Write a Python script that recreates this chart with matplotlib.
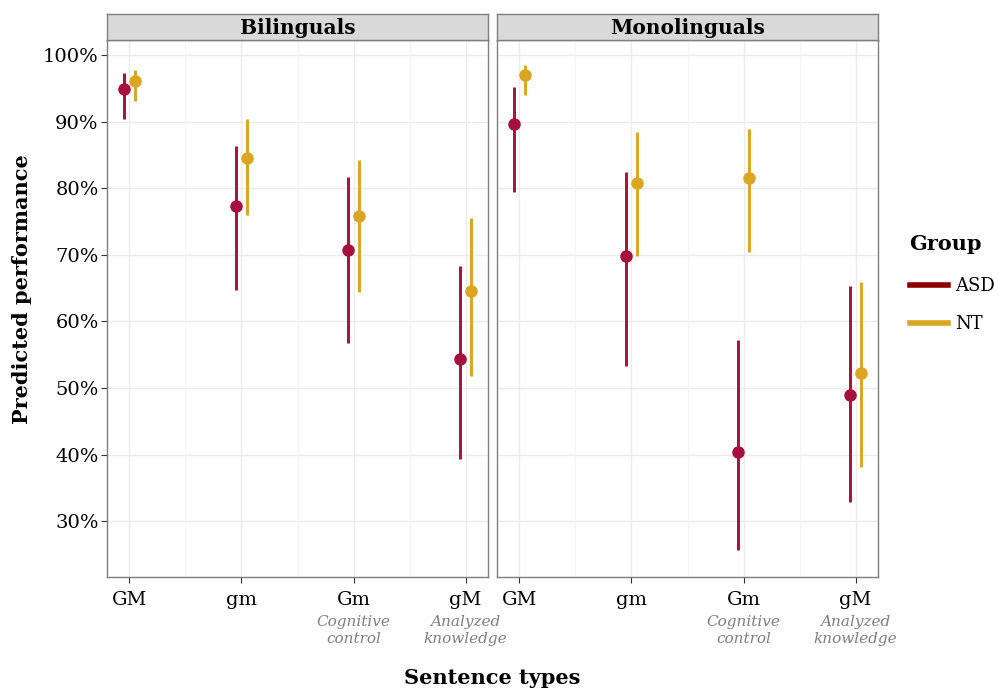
import numpy as np
import matplotlib.pyplot as plt
from matplotlib.lines import Line2D
import matplotlib.transforms as mtransforms

# donnees (en %)
types = ['GM', 'gm', 'Gm', 'gM']
sous_titres = ['', '', 'Cognitive\ncontrol', 'Analyzed\nknowledge']
groupes = ['ASD', 'NT']
panneaux = ['Bilinguals', 'Monolinguals']

bil_asd = [94.9, 77.4, 70.8, 54.3]
bil_asd_bas = [90.5, 64.8, 56.7, 39.4]
bil_asd_haut = [97.4, 86.4, 81.7, 68.4]
bil_nt = [96.2, 84.5, 75.8, 64.6]
bil_nt_bas = [93.2, 76.0, 64.5, 51.8]
bil_nt_haut = [97.8, 90.4, 84.2, 75.6]

mono_asd = [89.7, 69.8, 40.4, 49.0]
mono_asd_bas = [79.5, 53.3, 25.6, 32.8]
mono_asd_haut = [95.2, 82.4, 57.2, 65.4]
mono_nt = [97.1, 80.8, 81.5, 52.2]
mono_nt_bas = [94.0, 69.8, 70.5, 38.1]
mono_nt_haut = [98.5, 88.4, 88.9, 65.9]

donnees = {
    'Bilinguals': [(bil_asd, bil_asd_bas, bil_asd_haut), (bil_nt, bil_nt_bas, bil_nt_haut)],
    'Monolinguals': [(mono_asd, mono_asd_bas, mono_asd_haut), (mono_nt, mono_nt_bas, mono_nt_haut)],
}

coul_pts = {'ASD': '#A5103C', 'NT': '#DAA520'}
coul_leg = {'ASD': '#8B0000', 'NT': '#DAA520'}
decal = {'ASD': -0.05, 'NT': 0.05}

plt.rcParams['font.family'] = 'DejaVu Serif'

fig = plt.figure(figsize=(9.99, 6.92), dpi=100)
W, H = 999, 692
gauches = [107, 497]
haut, bas, largeur = 40, 577, 381

for i, nom in enumerate(panneaux):
    ax = fig.add_axes([gauches[i] / W, 1 - bas / H, largeur / W, (bas - haut) / H])
    ax.set_facecolor('white')
    ax.set_xlim(0.8, 4.2)
    ax.set_ylim(21.6, 102.3)
    # grille
    for v in range(30, 101, 10):
        ax.axhline(v, color='#EBEBEB', lw=1.0, zorder=0)
    for xg in [1, 2, 3, 4]:
        ax.axvline(xg, color='#EBEBEB', lw=1.0, zorder=0)
    for xg in [1.5, 2.5, 3.5]:
        ax.axvline(xg, color='#F4F4F4', lw=0.8, zorder=0)
    x = np.arange(1, 5)
    for g, (val, lo, hi) in zip(groupes, donnees[nom]):
        xs = x + decal[g]
        ax.vlines(xs, lo, hi, color=coul_pts[g], lw=2.1, zorder=2)
        ax.plot(xs, val, 'o', color=coul_pts[g], ms=8, zorder=3)
    for s in ax.spines.values():
        s.set_color('#7F7F7F')
        s.set_linewidth(1.0)
    ax.set_xticks(x)
    ax.set_xticklabels(types, fontsize=14)
    ax.tick_params(axis='x', length=4, color='#333333', pad=6)
    ax.set_yticks(range(30, 101, 10))
    if i == 0:
        ax.set_yticklabels([f'{v}%' for v in range(30, 101, 10)], fontsize=14)
        ax.tick_params(axis='y', length=4, color='#333333', pad=2)
    else:
        ax.tick_params(axis='y', length=0, labelleft=False)
    trans = mtransforms.blended_transform_factory(ax.transData, ax.transAxes)
    for xi, st in zip(x, sous_titres):
        if st:
            ax.text(xi, -0.07, st, transform=trans, ha='center', va='top',
                    fontsize=11, style='italic', color='#7F7F7F', linespacing=1.3)
    # bandeau
    sax = fig.add_axes([gauches[i] / W, 1 - haut / H, largeur / W, 26 / H])
    sax.set_xticks([])
    sax.set_yticks([])
    sax.set_facecolor('#D9D9D9')
    for s in sax.spines.values():
        s.set_color('#7F7F7F')
        s.set_linewidth(1.0)
    sax.text(0.5, 0.45, nom, ha='center', va='center', fontsize=14.5, fontweight='bold')

fig.text(22 / W, 1 - 289 / H, 'Predicted performance', rotation=90, ha='center', va='center',
         fontsize=15, fontweight='bold')
fig.text(492 / W, 1 - 678 / H, 'Sentence types', ha='center', va='center',
         fontsize=15, fontweight='bold')

# legende
fig.text(909 / W, 1 - 244 / H, 'Group', ha='left', va='center', fontsize=15, fontweight='bold')
poignees = [Line2D([], [], color=coul_leg[g], lw=4) for g in groupes]
leg = fig.legend(poignees, groupes, loc='upper left', bbox_to_anchor=(910 / W, 1 - 277 / H),
                 frameon=False, fontsize=13, handlelength=2.1,
                 handletextpad=0.4, labelspacing=1.12, borderpad=0, borderaxespad=0)

fig.savefig('out.png', dpi=100)
